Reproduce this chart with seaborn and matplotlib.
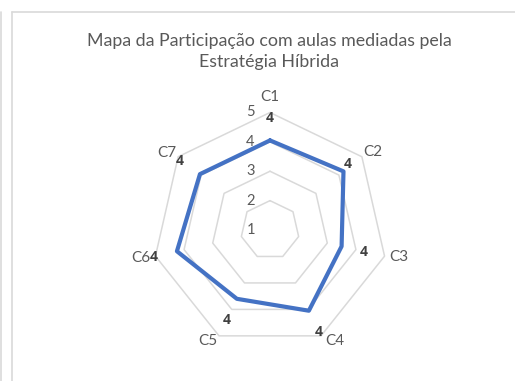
import numpy as np
import pandas as pd
import matplotlib
matplotlib.use("Agg")
import matplotlib.pyplot as plt
from matplotlib.lines import Line2D
import seaborn as sns

categories = ["C1", "C2", "C3", "C4", "C5", "C6", "C7"]
values = [4.05, 4.2, 3.5, 4.05, 3.6, 4.25, 4.05]
data_labels = ["4", "4", "4", "4", "4", "4", "4"]
r_ticks = [1, 2, 3, 4, 5]
title = "Mapa da Participação com aulas mediadas pela\nEstratégia Híbrida"

sns.set_style("white")
plt.rcParams["font.family"] = ["Lato", "DejaVu Sans"]

W, H = 515, 381
fig = plt.figure(figsize=(W / 100, H / 100), dpi=100)

cx, cy, R = 270, 230, 117.5
ax = fig.add_axes([(cx - R) / W, (H - cy - R) / H, 2 * R / W, 2 * R / H], projection="polar")
ax.set_theta_zero_location("N")
ax.set_theta_direction(-1)
ax.set_ylim(1, 5)

n = len(categories)
theta = np.arange(n) * 2 * np.pi / n
theta_c = np.append(theta, 2 * np.pi)

grid_col = "#d9d9d9"
for lvl in r_ticks[1:]:
    ax.plot(theta_c, [lvl] * (n + 1), color=grid_col, lw=1.1, clip_on=False, zorder=1)

df = pd.DataFrame({"theta": theta_c, "value": values + [values[0]]})
sns.lineplot(data=df, x="theta", y="value", sort=False, estimator=None, ax=ax,
             color="#4472C4", lw=3.0, clip_on=False, zorder=3)

ax.grid(False)
ax.spines["polar"].set_visible(False)
ax.set_yticks(r_ticks)
ax.set_yticklabels([])
ax.set_xticks(theta)
ax.set_xticklabels([])
ax.set_xlabel("")
ax.set_ylabel("")
ax.patch.set_alpha(0)

# category labels placed just outside the outer ring
cat_offsets = [(0, 11.2), (7.9, 3.1), (10.4, -0.4), (9.6, -3.6), (-7.9, -3.6), (-10.8, -1.2), (-8.4, 2.9)]
for th, lab, off in zip(theta, categories, cat_offsets):
    ax.annotate(lab, xy=(th, r_ticks[-1]), xytext=off, textcoords="offset points",
                ha="center", va="center", color="#595959", fontsize=11, annotation_clip=False)

for t in r_ticks:
    ax.annotate(str(t), xy=(0, t), xytext=(-14, 0), textcoords="offset points",
                ha="center", va="center", color="#595959", fontsize=10.5, annotation_clip=False)

label_offsets = [(0, 16.1), (2.9, 5.3), (16, -4.1), (6.8, -15.6), (-7.6, -15.6), (-16.6, -4), (-14.4, 9.6)]
for th, v, lab, off in zip(theta, values, data_labels, label_offsets):
    ax.annotate(lab, xy=(th, v), xytext=off, textcoords="offset points",
                ha="center", va="center", color="#404040", fontsize=10,
                fontweight="bold", family=["Open Sans", "DejaVu Sans"],
                annotation_clip=False)

fig.text(cx / W - 0.002, 1 - 51.5 / H, title, ha="center", va="center", fontsize=12.8,
         color="#595959", linespacing=1.45)

border = "#d9d9d9"
fig.add_artist(Line2D([11.5 / W, 11.5 / W], [0, 1 - 11.5 / H], color=border, lw=1.2,
                      transform=fig.transFigure))
fig.add_artist(Line2D([11.5 / W, 1], [1 - 11.5 / H, 1 - 11.5 / H], color=border, lw=1.2,
                      transform=fig.transFigure))
fig.add_artist(Line2D([1 / W, 1 / W], [0, 1 - 11.5 / H], color=border, lw=1.2,
                      transform=fig.transFigure))

fig.savefig("out.png", dpi=100)
